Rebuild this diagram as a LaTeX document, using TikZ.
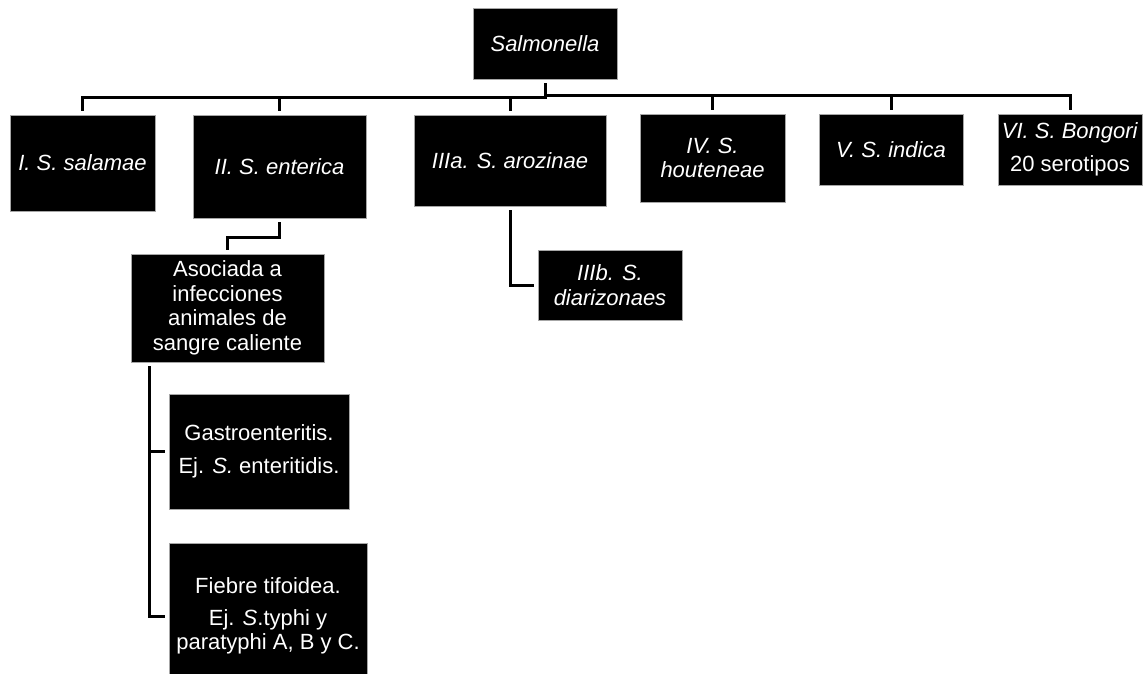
\documentclass[tikz,border=0pt]{standalone}
\usepackage{fontspec}
\setmainfont{Liberation Sans}
\begin{document}
\begin{tikzpicture}[
    x=1pt, y=-1pt,
    font=\fontsize{22}{24.5}\selectfont,
    % Estilos
    box/.style={fill=black, draw=gray!70, line width=0.8pt, text=white, align=center, inner sep=0pt, outer sep=4pt},
    conn/.style={draw=black, line width=3pt}
]
    \useasboundingbox (0,0) rectangle (1145,673);

    % ==========================================
    % RAIZ
    % ==========================================
    \node[box, minimum width=144pt, minimum height=71pt] (root) at (545,43.5) {\textit{Salmonella}};

    % ==========================================
    % ESPECIES Y SUBESPECIES
    % ==========================================
    \node[box, minimum width=145pt, minimum height=96pt] (sal) at (82.5,163) {\textit{I. S. salamae}};
    \node[box, minimum width=173pt, minimum height=103pt] (ent) at (279.5,166.5) {\textit{II. S. enterica}};
    \node[box, minimum width=192pt, minimum height=91pt] (iiia) at (510,160.5) {\textit{IIIa. S. arozinae}};
    \node[box, minimum width=145pt, minimum height=88pt] (iv) at (712.5,158) {\textit{IV. S.}\\\textit{houteneae}};
    \node[box, minimum width=144pt, minimum height=71pt] (v) at (891,149.5) {\textit{V. S. indica}};
    \node[box, minimum width=144pt, minimum height=71pt] (vi) at (1070,149.5) {\textit{VI. S. Bongori}\\[9pt]20 serotipos};
    \node[box, minimum width=144pt, minimum height=70pt] (iiib) at (610,285) {\textit{IIIb. S.}\\\textit{diarizonaes}};

    % ==========================================
    % S. ENTERICA
    % ==========================================
    \node[box, minimum width=193pt, minimum height=108pt] (asoc) at (227.5,308) {Asociada a\\infecciones\\animales de\\sangre caliente};
    \node[box, minimum width=180pt, minimum height=115pt] (gastro) at (259,451.5) {Gastroenteritis.\\[8.5pt]Ej. \textit{S.} enteritidis.};
    \node[box, minimum width=198pt, minimum height=146pt] (fiebre) at (268,616) {Fiebre tifoidea.\\[7pt]Ej. \textit{S}.typhi y\\paratyphi A, B y C.};

    % ==========================================
    % CONECTORES
    % ==========================================
    \coordinate (busL) at (545,97.5);
    \coordinate (busR) at (545,95.5);
    \draw[conn] (root.south) -- (busL) -| (sal.north);
    \draw[conn] (busL) -| (ent.north);
    \draw[conn] (busL) -| (iiia.north);
    \draw[conn] (root.south) -- (busR) -| (iv.north);
    \draw[conn] (busR) -| (v.north);
    \draw[conn] (busR) -| (vi.north);

    \draw[conn] (ent.south) -- ++(0,15) -| (asoc.north);
    \draw[conn] (iiia.south) |- (iiib.west);
    \draw[conn] ([xshift=22pt]asoc.south west) |- (gastro.west);
    \draw[conn] ([xshift=22pt]asoc.south west) |- (fiebre.west);

\end{tikzpicture}
\end{document}
